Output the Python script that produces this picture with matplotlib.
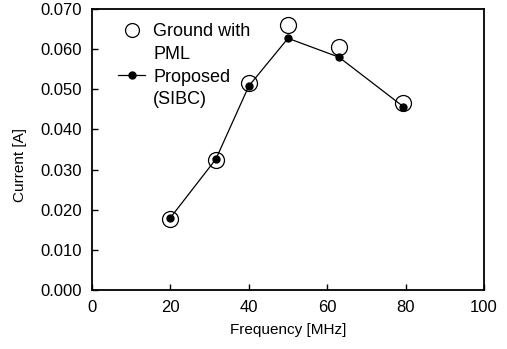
import matplotlib
matplotlib.use("Agg")
import matplotlib.pyplot as plt
from matplotlib.lines import Line2D

freq = [20, 31.6, 40, 50, 63, 79.4]
ground_pml = [0.0177, 0.0324, 0.0516, 0.0660, 0.0606, 0.0467]
proposed_sibc = [0.0180, 0.0326, 0.0508, 0.0627, 0.0580, 0.0457]
xticks = [0, 20, 40, 60, 80, 100]
yticks = [0.000, 0.010, 0.020, 0.030, 0.040, 0.050, 0.060, 0.070]

plt.rcParams['font.family'] = ['Liberation Sans', 'DejaVu Sans']

fig = plt.figure(figsize=(5.07, 3.49), dpi=100)
ax = fig.add_axes([0.1815, 0.1691, 0.7731, 0.8051])

h1, = ax.plot(freq, ground_pml, linestyle='none', marker='o', markersize=11.5,
              markerfacecolor='white', markeredgecolor='black', markeredgewidth=0.9)
h2, = ax.plot(freq, proposed_sibc, color='black', linewidth=0.9, marker='o', markersize=5,
              markerfacecolor='black', markeredgecolor='black')

ax.set_xlim(0, 100)
ax.set_ylim(0, 0.070)
ax.set_xticks(xticks)
ax.set_yticks(yticks)
ax.set_xticklabels([str(v) for v in xticks])
ax.set_yticklabels([f"{v:.3f}" for v in yticks])
ax.tick_params(direction='in', length=4, width=1, labelsize=12, pad=7)
for s in ax.spines.values():
    s.set_linewidth(1.3)

ax.set_xlabel('Frequency [MHz]', fontsize=11, labelpad=6)
ax.set_ylabel('Current [A]', fontsize=11)
ax.yaxis.set_label_coords(-0.165, 0.445)

blank = Line2D([], [], linestyle='none')
h1l = Line2D([], [], linestyle='none', marker='o', markersize=10,
             markerfacecolor='white', markeredgecolor='black', markeredgewidth=0.9)
handles = [h1l, blank, h2, blank]
labels = ['Ground with', 'PML', 'Proposed', '(SIBC)']
leg = ax.legend(handles, labels, loc='upper left', frameon=False, fontsize=13,
                handlelength=1.5, handletextpad=0.45, labelspacing=0.32,
                borderaxespad=0, borderpad=0,
                bbox_to_anchor=(118 / 507, 1 - 23 / 349),
                bbox_transform=fig.transFigure)

fig.savefig('out.png', dpi=100)
